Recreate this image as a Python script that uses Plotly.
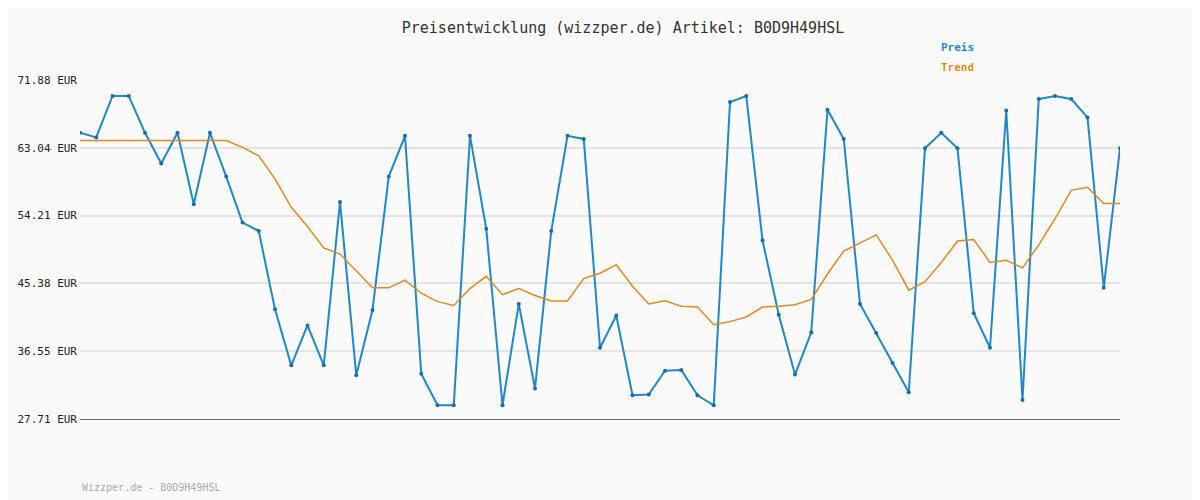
import plotly.graph_objects as go

preis = [65.0, 64.4, 69.8, 69.8, 65.0, 61.0, 65.0, 55.7, 65.0, 59.3,
         53.3, 52.2, 42.0, 34.7, 39.9, 34.7, 56.0, 33.4, 41.9, 59.3,
         64.6, 33.6, 29.5, 29.5, 64.6, 52.5, 29.5, 42.7, 31.7, 52.2,
         64.6, 64.2, 37.0, 41.2, 30.8, 30.9, 34.0, 34.1, 30.8, 29.5,
         69.0, 69.8, 51.0, 41.3, 33.5, 39.0, 68.0, 64.2, 42.7, 38.9,
         35.0, 31.2, 63.0, 65.0, 63.0, 41.5, 37.0, 67.9, 30.2, 69.4,
         69.8, 69.4, 67.0, 44.8, 63.0]
trend = [64.0] * 10 + [
    63.1, 62.0, 59.0, 55.3, 52.8, 50.0, 49.2, 47.0, 44.8, 44.8,
    45.8, 44.1, 43.0, 42.5, 44.7, 46.3, 43.9, 44.7, 43.8, 43.1,
    43.1, 46.0, 46.7, 47.8, 45.0, 42.7, 43.1, 42.4, 42.3, 40.0,
    40.4, 41.0, 42.3, 42.4, 42.6, 43.3, 46.6, 49.6, 50.7, 51.7,
    48.4, 44.5, 45.6, 48.1, 50.9, 51.1, 48.1, 48.4, 47.4, 50.4,
    53.8, 57.5, 57.9, 55.8, 55.8]
tick_vals = [27.71, 36.55, 45.38, 54.21, 63.04, 71.88]
tick_text = [f"{v:.2f} EUR" for v in tick_vals]

blue = '#1f88c9'
orange = '#e3891f'
x = list(range(len(preis)))

# page body adds 8px offset; shift the plot area so it lands at 80..1120 / 80..419
OFF = 8
L, T = 80 - OFF, 80 - OFF
R = 1200 - 1120 + OFF
B = 500 - 419 + OFF
pw, ph = 1200 - L - R, 500 - T - B


def px(xp):
    return (xp - 80) / pw


def py(yp):
    return (419 - yp) / ph


fig = go.Figure()
fig.add_trace(go.Scatter(x=x, y=preis, mode='lines+markers', name='Preis',
                         line=dict(color=blue, width=2),
                         marker=dict(size=4, color='#1a6ea8')))
fig.add_trace(go.Scatter(x=x, y=trend, mode='lines', name='Trend',
                         line=dict(color=orange, width=1.5)))

fig.update_layout(
    width=1200, height=500,
    paper_bgcolor='#fafafa', plot_bgcolor='#fafafa',
    font=dict(family='DejaVu Sans Mono', size=11, color='#333'),
    margin=dict(l=L, r=R, t=T, b=B),
    showlegend=False,
    title=dict(text='Preisentwicklung (wizzper.de) Artikel: B0D9H49HSL',
               x=(623 - OFF) / 1200, xanchor='center', y=1 - (28 - OFF) / 500,
               yanchor='middle', font=dict(size=15, color='#333')),
    annotations=[
        dict(text='<b>Preis</b>', x=px(939), y=py(47), xref='paper', yref='paper',
             xanchor='left', yanchor='middle', showarrow=False,
             font=dict(color=blue, size=11)),
        dict(text='<b>Trend</b>', x=px(939), y=py(67), xref='paper', yref='paper',
             xanchor='left', yanchor='middle', showarrow=False,
             font=dict(color=orange, size=11)),
        dict(text='Wizzper.de - B0D9H49HSL', x=px(80), y=py(487), xref='paper',
             yref='paper', xanchor='left', yanchor='middle', showarrow=False,
             font=dict(size=10, color='#aaa')),
    ],
)

fig.update_xaxes(range=[0, len(preis) - 1], showgrid=False, showticklabels=False,
                 zeroline=False, showline=True, linecolor='#666', linewidth=1, ticks='',
                 automargin=False)
fig.update_yaxes(range=[27.71, 71.88], tickvals=tick_vals, ticktext=tick_text,
                 tickfont=dict(size=11, color='#222'), automargin=False, ticklabelstandoff=2,
                 showgrid=True, gridcolor='#e4e4e4', gridwidth=1.5, zeroline=False,
                 showline=False, ticks='')

fig.write_html("out.html")
